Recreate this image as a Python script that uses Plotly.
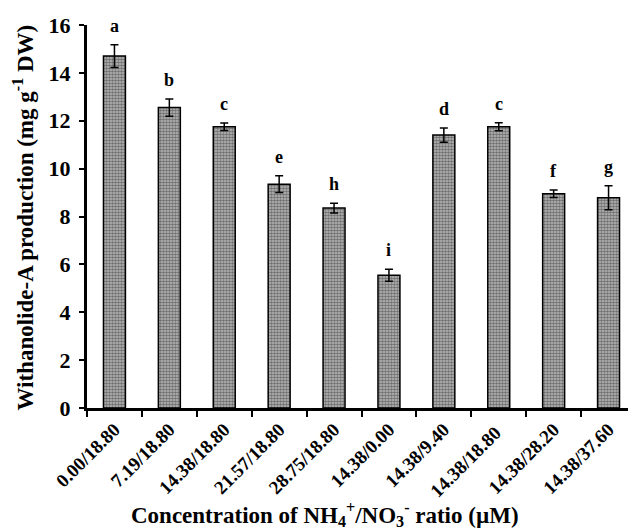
import plotly.graph_objects as go

categories = ["0.00/18.80", "7.19/18.80", "14.38/18.80", "21.57/18.80", "28.75/18.80",
              "14.38/0.00", "14.38/9.40", "14.38/18.80 ", "14.38/28.20", "14.38/37.60"]
values = [14.7, 12.55, 11.75, 9.35, 8.35, 5.55, 11.4, 11.75, 8.95, 8.78]
errors = [0.48, 0.36, 0.16, 0.35, 0.2, 0.25, 0.3, 0.17, 0.16, 0.5]
letters = ["a", "b", "c", "e", "h", "i", "d", "c", "f", "g"]

FONT = "Liberation Serif"

fig = go.Figure()
fig.add_trace(go.Bar(
    x=categories, y=values,
    marker=dict(color="#808080",
                line=dict(color="black", width=1.5),
                pattern=dict(shape=".", fgcolor="#222222", bgcolor="#bdbdbd", size=3, solidity=0.6)),
    error_y=dict(type="data", array=errors, color="black", thickness=1.5, width=4),
    width=0.4,
))

for c, v, e, l in zip(categories, values, errors, letters):
    fig.add_annotation(x=c, y=v + e, text=l, showarrow=False,
                       yanchor="bottom", yshift=7,
                       font=dict(family=FONT, size=18, color="black", weight="bold"))

fig.add_annotation(xref="paper", yref="paper", x=0.434, y=-0.279,
                   xanchor="center", yanchor="middle", showarrow=False,
                   text="Concentration of NH<sub>4</sub><sup>+</sup>/NO<sub>3</sub><sup>-</sup> ratio (µM)",
                   font=dict(family=FONT, size=23, color="black", weight="bold"))
fig.add_annotation(xref="paper", yref="paper", x=-0.115, y=0.497, textangle=-90,
                   xanchor="center", yanchor="middle", showarrow=False,
                   text="Withanolide-A production (mg g<sup>-1</sup> DW)",
                   font=dict(family=FONT, size=23, color="black", weight="bold"))

fig.update_layout(
    width=628, height=523,
    margin=dict(l=79, r=0, t=17, b=123),
    plot_bgcolor="white", paper_bgcolor="white",
    showlegend=False,
    font=dict(family=FONT, color="black"),
    xaxis=dict(
        showline=True, linecolor="black", linewidth=3,
        ticks="outside", tickson="boundaries", ticklen=6, tickwidth=2, tickcolor="black",
        tickangle=-45, tickfont=dict(family=FONT, size=19, color="black", weight="bold"),
        showgrid=False,
    ),
    yaxis=dict(
        range=[0, 16], dtick=2,
        showline=True, linecolor="black", linewidth=3,
        ticks="outside", ticklen=5, tickwidth=2, tickcolor="black",
        tickfont=dict(family=FONT, size=22, color="black", weight="bold"),
        ticklabelstandoff=4,
        showgrid=False, zeroline=False,
    ),
)

fig.write_html("out.html")
